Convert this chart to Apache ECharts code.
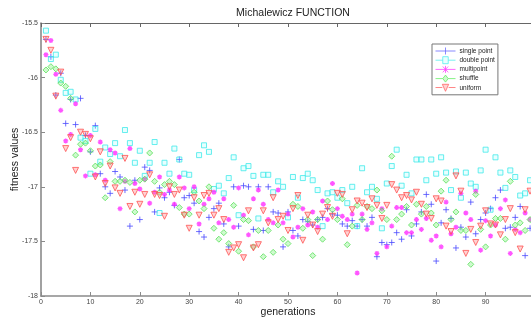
<!DOCTYPE html>
<html>
<head>
<meta charset="utf-8">
<script src="https://cdn.jsdelivr.net/npm/echarts@6/dist/echarts.min.js"></script>
<style>
html,body{margin:0;padding:0;background:#fff;}
#chart{width:531px;height:320px;}
</style>
</head>
<body>
<div id="chart"></div>
<script>
var generations = [1,2,3,4,5,6,7,8,9,10,11,12,13,14,15,16,17,18,19,20,21,22,23,24,25,26,27,28,29,30,31,32,33,34,35,36,37,38,39,40,41,42,43,44,45,46,47,48,49,50,51,52,53,54,55,56,57,58,59,60,61,62,63,64,65,66,67,68,69,70,71,72,73,74,75,76,77,78,79,80,81,82,83,84,85,86,87,88,89,90,91,92,93,94,95,96,97,98,99];

var singlePoint = [-15.65,-15.81,-16.16,-15.96,-16.42,-16.20,-16.43,-16.19,-16.53,-16.68,
-16.44,-16.88,-17.00,-17.06,-16.86,-16.91,-17.03,-17.36,-16.94,-17.30,
-16.82,-16.85,-17.23,-17.01,-17.10,-17.05,-17.17,-16.75,-17.10,-17.08,
-17.15,-17.41,-17.46,-17.28,-17.20,-17.15,-17.34,-17.55,-17.00,-17.36,
-16.99,-17.00,-17.39,-17.00,-17.40,-17.00,-17.23,-17.24,-17.55,-17.23,
-17.40,-17.45,-17.30,-17.32,-17.35,-17.30,-17.28,-17.20,-17.25,-17.26,
-17.34,-17.36,-17.31,-17.36,-17.30,-17.36,-17.28,-17.64,-17.51,-17.53,
-17.51,-17.42,-17.48,-17.21,-17.45,-17.34,-17.23,-17.07,-17.16,-17.68,
-17.33,-17.21,-17.29,-17.56,-17.37,-17.46,-17.14,-17.43,-17.30,-17.24,
-17.20,-17.10,-17.03,-17.38,-17.37,-17.28,-17.18,-17.63,-17.38];

var doublePoint = [-15.57,-15.83,-15.79,-16.02,-16.14,-16.13,-16.20,-16.55,-16.58,-16.88,
-16.47,-16.77,-16.64,-16.70,-16.60,-16.72,-16.48,-16.60,-16.78,-16.67,
-16.90,-16.78,-16.59,-17.24,-16.78,-16.88,-16.65,-16.75,-16.88,-16.89,
-17.03,-16.71,-16.62,-16.68,-17.02,-16.99,-17.06,-16.92,-16.73,-17.26,
-16.83,-16.81,-16.90,-17.29,-16.89,-16.89,-17.05,-16.95,-17.00,-17.28,
-16.91,-17.10,-16.92,-16.88,-16.94,-17.03,-17.36,-17.06,-17.05,-17.10,
-17.03,-17.15,-17.00,-17.36,-16.83,-17.05,-17.00,-17.11,-17.38,-16.97,
-16.81,-16.66,-16.99,-16.89,-17.06,-16.75,-16.75,-16.94,-16.75,-16.88,
-16.73,-16.87,-17.03,-16.86,-17.10,-16.87,-16.97,-17.00,-16.85,-16.66,
-17.21,-16.73,-16.87,-17.01,-16.85,-16.91,-17.08,-17.06,-16.94];

var multiPoint = [-15.79,-15.66,-15.97,-16.30,-16.58,-16.52,-16.24,-16.66,-16.90,-16.53,
-16.89,-16.59,-16.94,-16.66,-16.69,-17.20,-16.95,-16.65,-16.97,-17.02,
-16.93,-17.15,-17.05,-16.91,-17.07,-17.03,-17.16,-16.91,-17.01,-17.20,
-17.00,-17.34,-17.16,-17.11,-17.05,-17.33,-17.11,-17.30,-17.37,-17.01,
-17.26,-17.44,-17.11,-17.03,-17.16,-17.30,-17.33,-17.03,-17.33,-17.25,
-17.46,-17.37,-17.20,-17.35,-17.23,-17.37,-17.13,-17.30,-16.97,-17.20,
-17.27,-17.30,-17.25,-17.79,-17.25,-17.39,-17.33,-17.61,-17.20,-17.55,
-17.36,-17.19,-17.19,-17.42,-17.42,-17.30,-17.39,-17.29,-17.49,-17.45,
-17.55,-17.14,-17.43,-17.37,-17.06,-17.24,-17.30,-17.04,-17.58,-17.31,
-17.45,-17.35,-17.20,-17.12,-17.61,-17.39,-17.42,-17.24,-17.30];

var shuffle = [-15.93,-15.90,-15.92,-16.05,-16.08,-16.19,-16.71,-16.61,-16.60,-16.67,
-16.81,-16.80,-17.10,-16.77,-16.95,-16.95,-16.94,-16.96,-17.23,-16.94,
-16.93,-16.69,-16.95,-17.05,-16.98,-16.95,-16.98,-17.19,-17.25,-17.25,
-17.05,-17.13,-17.20,-17.00,-17.38,-17.48,-17.42,-17.52,-17.17,-17.59,
-17.30,-17.31,-17.55,-17.40,-17.64,-17.40,-17.60,-17.35,-17.48,-17.52,
-17.16,-17.18,-17.38,-17.30,-17.63,-17.30,-17.48,-17.13,-17.21,-17.30,
-17.11,-17.53,-17.36,-17.17,-17.30,-17.18,-17.20,-17.03,-17.22,-17.30,
-16.72,-17.30,-17.25,-17.18,-17.35,-17.16,-17.25,-17.18,-17.24,-17.35,
-17.04,-16.94,-17.30,-17.23,-17.40,-17.40,-17.71,-17.07,-17.39,-17.55,
-17.35,-17.29,-17.29,-17.48,-16.95,-17.35,-17.33,-17.40,-17.30];

var uniform = [-15.65,-15.75,-16.17,-15.95,-16.65,-16.55,-16.85,-16.50,-16.52,-16.56,
-16.91,-16.68,-16.97,-16.81,-17.01,-17.06,-16.74,-17.18,-17.05,-17.16,
-17.07,-16.89,-17.07,-17.08,-17.27,-17.00,-17.07,-17.03,-17.26,-17.38,
-17.10,-17.26,-17.08,-17.06,-17.26,-17.20,-17.30,-17.60,-17.56,-17.53,
-17.65,-17.22,-17.56,-17.53,-17.22,-17.33,-17.10,-17.30,-17.27,-17.40,
-17.20,-17.08,-17.49,-17.26,-17.35,-17.41,-17.25,-17.19,-17.27,-17.06,
-17.07,-17.43,-17.21,-17.13,-17.15,-17.19,-17.11,-17.17,-17.29,-17.17,
-16.98,-17.03,-17.10,-17.08,-17.12,-17.05,-17.16,-17.25,-17.29,-17.11,
-17.13,-17.36,-17.41,-16.90,-17.04,-17.61,-17.39,-17.51,-17.36,-17.22,
-17.34,-17.35,-17.44,-17.30,-17.20,-17.42,-17.57,-17.21,-17.04];

var seriesNames = ['single point','double point','multipoint','shuffle','uniform'];
var xTicks = [0,10,20,30,40,50,60,70,80,90];
var yTicks = [-18,-17.5,-17,-16.5,-16,-15.5];

var FONT = 'Liberation Sans, Arial, sans-serif';

var styles = [
  {symbol:'path://M5,0 L5,10 M0,5 L10,5', size:6, item:{color:'transparent', borderColor:'#4a4aff', borderWidth:1},
   icon:'path://M0,4 L22,4 M11,0.5 L11,7.5', line:'#6b6bff'},
  {symbol:'rect', size:5, item:{color:'rgba(140,255,255,0.25)', borderColor:'#40eaea', borderWidth:1},
   icon:'path://M0,4 L8,4 M14,4 L22,4 M8,1 L14,1 L14,7 L8,7 Z', line:'#55eeee'},
  {symbol:'path://M5,0 L5,10 M0,5 L10,5 M1.5,1.5 L8.5,8.5 M8.5,1.5 L1.5,8.5', size:5, item:{color:'transparent', borderColor:'#ff2cff', borderWidth:1.3},
   icon:'path://M0,4 L22,4 M11,1 L11,7 M8,1.5 L14,6.5 M14,1.5 L8,6.5', line:'#ff44ff'},
  {symbol:'diamond', size:6, item:{color:'rgba(120,240,120,0.45)', borderColor:'#5ae05a', borderWidth:1},
   icon:'path://M0,4 L8,4 M14,4 L22,4 M11,0.5 L14,4 L11,7.5 L8,4 Z', line:'#66ee66'},
  {symbol:'path://M0,0 L10,0 L5,9 Z', size:6, item:{color:'rgba(255,130,130,0.45)', borderColor:'#ff5353', borderWidth:1},
   icon:'path://M0,4 L7.5,4 M14.5,4 L22,4 M7.5,1 L14.5,1 L11,7.5 Z', line:'#ff6666'}
];
var dataArrays = [singlePoint, doublePoint, multiPoint, shuffle, uniform];

function toPoints(vals){
  var out = [];
  for (var i = 0; i < vals.length; i++) out.push([generations[i], vals[i]]);
  return out;
}

var series = seriesNames.map(function(name, k){
  return {
    name: name,
    type: 'scatter',
    xAxisIndex: 0,
    yAxisIndex: 0,
    symbol: styles[k].symbol,
    symbolSize: styles[k].size,
    itemStyle: styles[k].item,
    data: toPoints(dataArrays[k]),
    emphasis: {disabled: true}
  };
});

var axisGray = '#8a8a8a';

var option = {
  animation: false,
  backgroundColor: '#ffffff',
  title: {
    text: 'Michalewicz FUNCTION',
    left: 288,
    top: 3,
    textAlign: 'center',
    textStyle: {fontFamily: FONT, fontSize: 10.5, fontWeight: 'normal', color: '#222'}
  },
  legend: {
    orient: 'vertical',
    left: 432,
    top: 44,
    padding: [3, 3, 3, 3],
    itemGap: 1.2,
    itemWidth: 20,
    itemHeight: 7,
    borderColor: '#777',
    borderWidth: 1,
    backgroundColor: '#fff',
    symbolKeepAspect: false,
    textStyle: {fontFamily: FONT, fontSize: 6.5, color: '#222', padding: [0,0,0,-1]},
    data: seriesNames.map(function(name, k){
      return {name: name, icon: styles[k].icon,
        itemStyle: {color: styles[k].item.color, borderColor: styles[k].line, borderWidth: 1}};
    })
  },
  grid: {left: 41, right: -4, top: 23, bottom: 24, containLabel: false, outerBoundsMode: 'none'},
  xAxis: [{
    type: 'value', min: 0, max: 100, interval: 10, position: 'bottom',
    name: 'generations', nameLocation: 'middle', nameGap: 11, nameMoveOverlap: false,
    nameTextStyle: {fontFamily: FONT, fontSize: 10.5, color: '#222'},
    axisLine: {show: true, lineStyle: {color: axisGray, width: 1.6}},
    axisTick: {show: true, inside: true, length: 4, lineStyle: {color: axisGray}},
    axisLabel: {fontFamily: FONT, fontSize: 7, color: '#444', margin: 3, showMaxLabel: false,
      formatter: function(v){ return xTicks.indexOf(v) >= 0 ? String(v) : ''; }},
    splitLine: {show: false}
  }, {
    type: 'value', min: 0, max: 100, interval: 10, position: 'top',
    axisLine: {show: true, lineStyle: {color: '#666', width: 1}},
    axisTick: {show: true, inside: true, length: 4, lineStyle: {color: '#666'}},
    axisLabel: {show: false},
    splitLine: {show: false}
  }],
  yAxis: [{
    type: 'value', min: -18, max: -15.5, interval: 0.5,
    name: 'fitness values', nameLocation: 'middle', nameGap: 20, nameRotate: 90, nameMoveOverlap: false,
    nameTextStyle: {fontFamily: FONT, fontSize: 10.5, color: '#222'},
    axisLine: {show: true, lineStyle: {color: axisGray, width: 1.6}},
    axisTick: {show: true, inside: true, length: 4, lineStyle: {color: axisGray}},
    axisLabel: {fontFamily: FONT, fontSize: 7, color: '#444', margin: 3,
      formatter: function(v){ return yTicks.indexOf(v) >= 0 ? String(v) : ''; }},
    splitLine: {show: false}
  }],
  series: series
};

var chart = echarts.init(document.getElementById('chart'), null, {renderer: 'canvas'});
chart.setOption(option);
</script>
</body>
</html>
